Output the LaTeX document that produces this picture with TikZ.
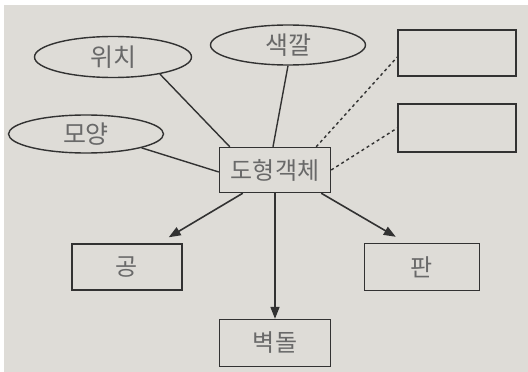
\documentclass[tikz,border=0pt]{standalone}
\usepackage{fontspec}
\usepackage{xcolor}
\usetikzlibrary{shapes.geometric,arrows.meta}
\newfontfamily\kofont{Noto Sans CJK KR}
\definecolor{paper}{RGB}{222,220,215}
\definecolor{pen}{RGB}{50,50,50}
\definecolor{pencil}{RGB}{105,105,105}
\begin{document}
\begin{tikzpicture}[x=1pt,y=-1pt,
        attr/.style={ellipse,draw=pen,line width=1.4pt,inner sep=0pt,text=pencil,font=\kofont\fontsize{25}{25}\selectfont},
        entity/.style={rectangle,draw=pen,line width=1.4pt,inner sep=0pt,text=pencil,font=\kofont\fontsize{24}{24}\selectfont},
        link/.style={draw=pen,line width=1.4pt},
        hint/.style={draw=pen,line width=1.4pt,dash pattern=on 3pt off 3pt},
        isa/.style={draw=pen,line width=1.6pt,-{Triangle[length=12pt,width=9pt]}}]
        \useasboundingbox (0,0) rectangle (528,372);
        \fill[white] (0,0) rectangle (528,372);
        \fill[paper] (4,5) rectangle (528,372);
        \node[attr,minimum width=157pt,minimum height=41pt](wiji) at (113,57) {위치};
        \node[attr,minimum width=155pt,minimum height=40pt](saekkal) at (288,45) {색깔};
        \node[attr,minimum width=155pt,minimum height=38pt](moyang) at (86,134) {모양};
        \node[entity,minimum width=111pt,minimum height=45pt](dohyeong) at (275,170) {도형객체};
        \node[entity,minimum width=118pt,minimum height=46pt](blank1) at (457,53) {};
        \node[entity,minimum width=118pt,minimum height=48pt](blank2) at (457,128) {};
        \node[entity,minimum width=110pt,minimum height=46pt](gong) at (127,267) {공};
        \node[entity,minimum width=115pt,minimum height=47pt](pan) at (422,267) {판};
        \node[entity,minimum width=111pt,minimum height=47pt](byeokdol) at (275,343) {벽돌};
        \draw[link](wiji.-20)--([xshift=11pt]dohyeong.north west);
        \draw[link](saekkal.south)--([xshift=-2pt]dohyeong.north);
        \draw[link](moyang.-14)--([yshift=-2pt]dohyeong.west);
        \draw[hint]([xshift=-15pt]dohyeong.north east)--([yshift=-4pt]blank1.west);
        \draw[hint](dohyeong.east)--(blank2.west);
        \draw[isa]([xshift=24pt]dohyeong.south west)--([xshift=-14pt,yshift=6pt]gong.north east);
        \draw[isa](dohyeong.south)--(byeokdol.north);
        \draw[isa]([xshift=-10pt]dohyeong.south east)--([xshift=32pt,yshift=6pt]pan.north west);
        \end{tikzpicture}
\end{document}
